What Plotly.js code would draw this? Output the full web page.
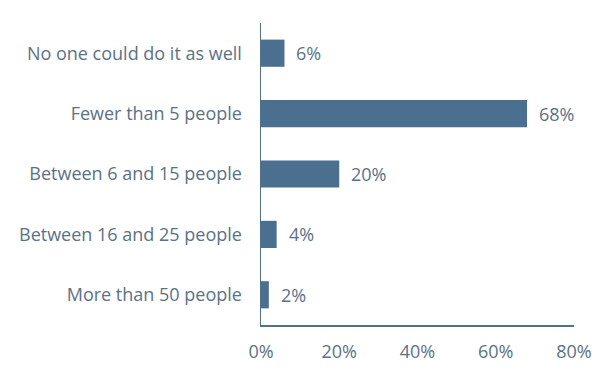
<!DOCTYPE html>
<html><head><meta charset="utf-8">
<script src="https://cdn.plot.ly/plotly-3.0.1.min.js"></script>
<style>html,body{margin:0;padding:0;background:#fff;}#chart{width:616px;height:379px;}</style>
</head><body><div id="chart"></div>
<script>
var categories = ["No one could do it as well","Fewer than 5 people","Between 6 and 15 people","Between 16 and 25 people","More than 50 people"];
var values = [6, 68, 20, 4, 2];
var tickVals = [0, 20, 40, 60, 80];
var tickLabels = ["0%", "20%", "40%", "60%", "80%"];

var barColor = "#4a6f8f";
var textColor = "#5b7188";
var fontFam = "'Open Sans', sans-serif";

var trace = {
  type: "bar", orientation: "h",
  x: values, y: categories,
  marker: {color: barColor},
  hoverinfo: "none"
};
var annotations = values.map(function(v, i){
  return {x: v, y: categories[i], xref: "x", yref: "y", text: v + "%",
    showarrow: false, xanchor: "left", xshift: 10,
    font: {family: fontFam, size: 18, color: textColor}};
});
var layout = {
  width: 616, height: 379,
  margin: {l: 261, r: 42, t: 23, b: 54},
  paper_bgcolor: "#fff", plot_bgcolor: "#fff",
  bargap: 0.55,
  showlegend: false,
  font: {family: fontFam, size: 18, color: textColor},
  xaxis: {range: [0, 80], tickvals: tickVals, ticktext: tickLabels,
    showgrid: false, zeroline: false, showline: true, linecolor: "#4f7190", linewidth: 1.5,
    ticks: "outside", ticklen: 10, tickcolor: "rgba(0,0,0,0)",
    tickfont: {family: fontFam, size: 18, color: textColor}, fixedrange: true},
  yaxis: {autorange: "reversed", categoryorder: "array", categoryarray: categories,
    showgrid: false, zeroline: false, showline: true, linecolor: "#4f7190", linewidth: 1.5,
    ticks: "outside", ticklen: 14, tickcolor: "rgba(0,0,0,0)",
    tickfont: {family: fontFam, size: 18, color: textColor}, fixedrange: true},
  annotations: annotations
};
Plotly.newPlot("chart", [trace], layout, {staticPlot: true});
</script></body></html>
